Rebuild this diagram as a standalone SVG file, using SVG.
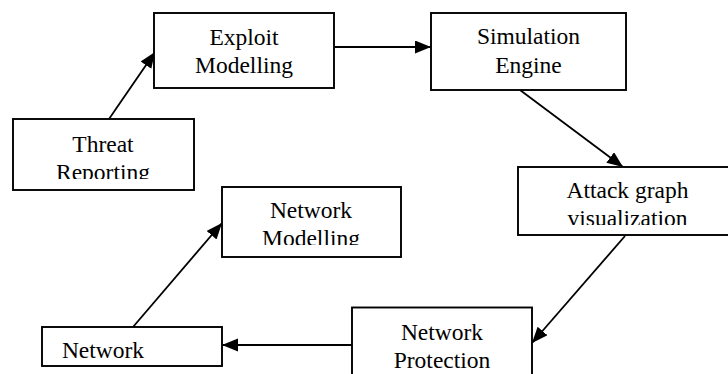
<svg xmlns="http://www.w3.org/2000/svg" width="728" height="374" viewBox="0 0 728 374">
<style>
.box{fill:#fff;stroke:#000;stroke-width:1.9}
.t{font-family:"Liberation Serif","Times New Roman",serif;font-size:23.5px;fill:#000;text-anchor:middle}
.c{stroke:#000;stroke-width:1.8;fill:none;marker-end:url(#ah)}
</style>
<defs>
<marker id="ah" markerUnits="userSpaceOnUse" markerWidth="17" markerHeight="14" refX="16" refY="6.5" orient="auto">
<path d="M0,0 L16,6.5 L0,13 z" fill="#000"/>
</marker>
<clipPath id="cThreat"><rect x="13" y="119" width="181" height="60"/></clipPath>
<clipPath id="cNetMod"><rect x="222" y="187" width="179" height="58"/></clipPath>
<clipPath id="cAttack"><rect x="518" y="167" width="220" height="58"/></clipPath>
<clipPath id="cNet"><rect x="42" y="327" width="180" height="33"/></clipPath>
</defs>
<g id="connectors">
<line class="c" x1="109" y1="119" x2="155" y2="52"/>
<line class="c" x1="334" y1="47" x2="431" y2="47"/>
<line class="c" x1="520" y1="90" x2="623" y2="167"/>
<line class="c" x1="625" y1="236" x2="532" y2="343"/>
<line class="c" x1="352" y1="345" x2="222" y2="345"/>
<line class="c" x1="133" y1="327" x2="222" y2="223"/>
</g>
<g id="exploit">
<rect class="box" x="154" y="13" width="180" height="75"/>
<text class="t" x="244" y="45">Exploit</text>
<text class="t" x="244" y="73">Modelling</text>
</g>
<g id="simulation">
<rect class="box" x="431" y="13" width="195" height="77"/>
<text class="t" x="528.5" y="44">Simulation</text>
<text class="t" x="528.5" y="73">Engine</text>
</g>
<g id="threat">
<rect class="box" x="13" y="119" width="181" height="71"/>
<g clip-path="url(#cThreat)">
<text class="t" x="103" y="152">Threat</text>
<text class="t" x="103" y="180">Reporting</text>
</g>
</g>
<g id="attack">
<rect class="box" x="518" y="167" width="220" height="68"/>
<g clip-path="url(#cAttack)">
<text class="t" x="627.5" y="198">Attack graph</text>
<text class="t" x="627.5" y="226">visualization</text>
</g>
</g>
<g id="netmodelling">
<rect class="box" x="222" y="187" width="179" height="70"/>
<g clip-path="url(#cNetMod)">
<text class="t" x="311" y="218">Network</text>
<text class="t" x="311" y="246">Modelling</text>
</g>
</g>
<g id="network">
<rect class="box" x="42" y="327" width="180" height="39"/>
<g clip-path="url(#cNet)">
<text class="t" x="103" y="358">Network</text>
</g>
</g>
<g id="protection">
<rect class="box" x="352" y="307.5" width="180" height="80"/>
<text class="t" x="442" y="340">Network</text>
<text class="t" x="442" y="368">Protection</text>
</g>
</svg>
